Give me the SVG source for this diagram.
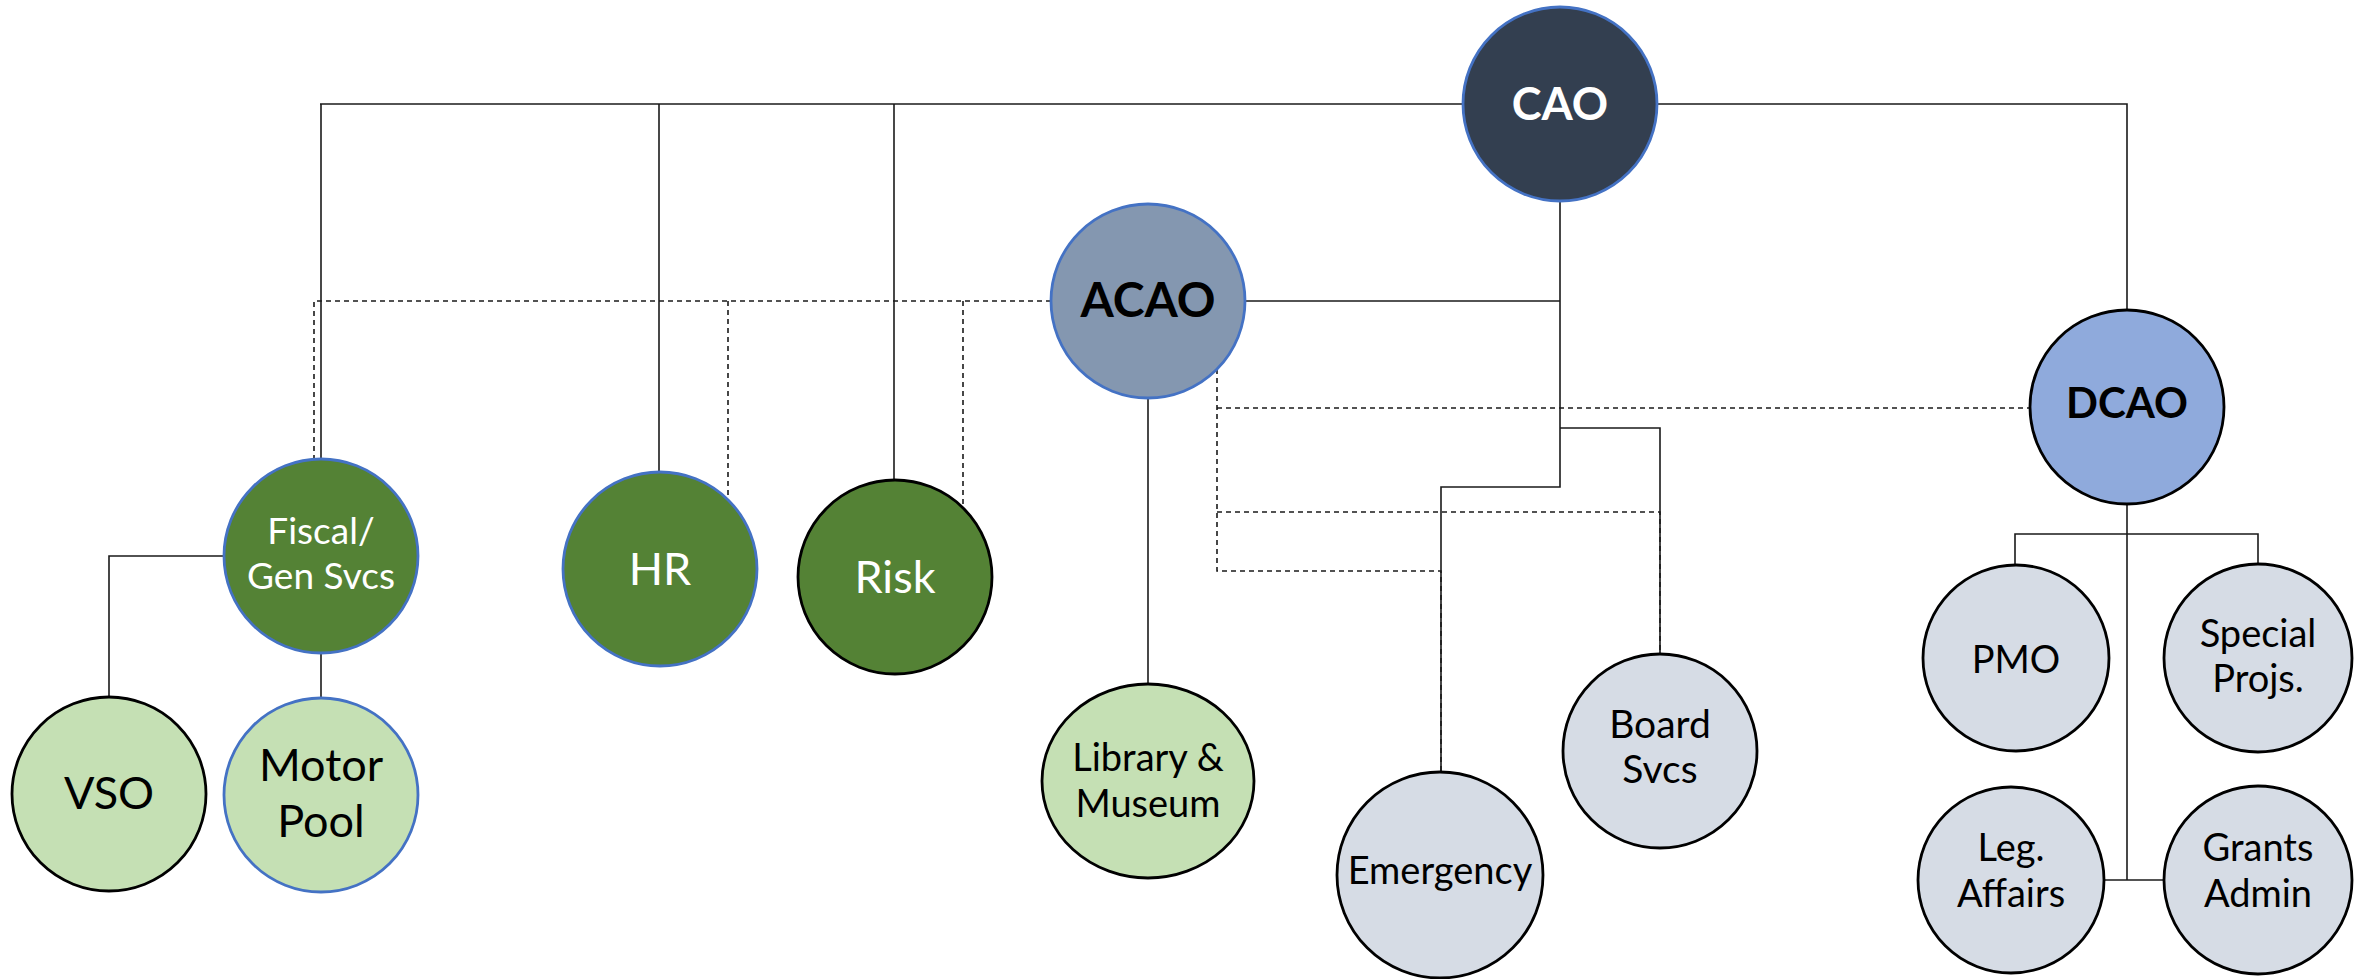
<svg xmlns="http://www.w3.org/2000/svg" width="2357" height="979" viewBox="0 0 2357 979">
  <style>
    .bg { fill: #ffffff; }
    .line { fill: none; stroke: #1a1a1a; stroke-width: 1.6; }
    .dash { fill: none; stroke: #1a1a1a; stroke-width: 1.6; stroke-dasharray: 5 4; }
    .node { stroke-width: 2.8; }
    .blue-edge { stroke: #4472C4; }
    .black-edge { stroke: #000000; }
    .exec { fill: #333F50; }
    .asst { fill: #8497B0; }
    .dep { fill: #8FAADC; }
    .dept { fill: #548235; }
    .unit { fill: #C5E0B4; }
    .office { fill: #D6DCE5; }
    text { font-family: Lato, "Open Sans", "Noto Sans", sans-serif; text-anchor: middle; }
    .lbl-w { fill: #ffffff; }
    .lbl-k { fill: #000000; }
    .bold { font-weight: bold; }
  </style>

  <rect class="bg" x="0" y="0" width="2357" height="979"/>

  <!-- reporting lines -->
  <g id="connectors">
    <!-- solid: CAO direct reports -->
    <path class="line" d="M320 104 H1463"/>
    <path class="line" d="M321 104 V459"/>
    <path class="line" d="M659 104 V472"/>
    <path class="line" d="M894 104 V480"/>
    <path class="line" d="M1657 104 H2127 V310"/>
    <path class="line" d="M1560 201 V487 H1441 V772"/>
    <path class="line" d="M1560 428 H1660 V654"/>
    <path class="line" d="M1245 301 H1560"/>
    <!-- ACAO to Library -->
    <path class="line" d="M1148 398 V684"/>
    <!-- Fiscal sub-units -->
    <path class="line" d="M224 556 H109 V697"/>
    <path class="line" d="M321 653 V698"/>
    <!-- DCAO sub-units -->
    <path class="line" d="M2127 504 V880"/>
    <path class="line" d="M2015 565 V534 H2258 V565"/>
    <path class="line" d="M2104 880 H2164"/>
    <!-- dotted-line relationships from ACAO -->
    <path class="dash" d="M1051 301 H314 V459"/>
    <path class="dash" d="M728 301 V502"/>
    <path class="dash" d="M963 301 V507"/>
    <path class="dash" d="M1217 369 V571 H1441 V772"/>
    <path class="dash" d="M1217 408 H2031"/>
    <path class="dash" d="M1217 512 H1660 V654"/>
  </g>

  <g id="cao">
    <circle class="node exec blue-edge" cx="1560" cy="104" r="97"/>
    <text class="lbl-w bold" x="1560" y="120" font-size="45">CAO</text>
  </g>

  <g id="acao">
    <circle class="node asst blue-edge" cx="1148" cy="301" r="97"/>
    <text class="lbl-k bold" x="1148" y="317" font-size="48">ACAO</text>
  </g>

  <g id="dcao">
    <circle class="node dep black-edge" cx="2127" cy="407" r="97"/>
    <text class="lbl-k bold" x="2127" y="418" font-size="42">DCAO</text>
  </g>

  <g id="fiscal">
    <circle class="node dept blue-edge" cx="321" cy="556" r="97"/>
    <text class="lbl-w" x="321" y="544" font-size="37">Fiscal/</text>
    <text class="lbl-w" x="321" y="589" font-size="37">Gen Svcs</text>
  </g>

  <g id="hr">
    <circle class="node dept blue-edge" cx="660" cy="569" r="97"/>
    <text class="lbl-w" x="660" y="585" font-size="45">HR</text>
  </g>

  <g id="risk">
    <circle class="node dept black-edge" cx="895" cy="577" r="97"/>
    <text class="lbl-w" x="895" y="593" font-size="45">Risk</text>
  </g>

  <g id="vso">
    <circle class="node unit black-edge" cx="109" cy="794" r="97"/>
    <text class="lbl-k" x="109" y="809" font-size="45">VSO</text>
  </g>

  <g id="motor-pool">
    <circle class="node unit blue-edge" cx="321" cy="795" r="97"/>
    <text class="lbl-k" x="321" y="781" font-size="45">Motor</text>
    <text class="lbl-k" x="321" y="837" font-size="45">Pool</text>
  </g>

  <g id="library">
    <ellipse class="node unit black-edge" cx="1148" cy="781" rx="106" ry="97"/>
    <text class="lbl-k" x="1148" y="771" font-size="38">Library &amp;</text>
    <text class="lbl-k" x="1148" y="817" font-size="38">Museum</text>
  </g>

  <g id="emergency">
    <circle class="node office black-edge" cx="1440" cy="875" r="103"/>
    <text class="lbl-k" x="1440" y="884" font-size="38">Emergency</text>
  </g>

  <g id="board-svcs">
    <circle class="node office black-edge" cx="1660" cy="751" r="97"/>
    <text class="lbl-k" x="1660" y="738" font-size="39">Board</text>
    <text class="lbl-k" x="1660" y="783" font-size="39">Svcs</text>
  </g>

  <g id="pmo">
    <circle class="node office black-edge" cx="2016" cy="658" r="93"/>
    <text class="lbl-k" x="2016" y="673" font-size="38">PMO</text>
  </g>

  <g id="special-projs">
    <circle class="node office black-edge" cx="2258" cy="658" r="94"/>
    <text class="lbl-k" x="2258" y="647" font-size="38">Special</text>
    <text class="lbl-k" x="2258" y="692" font-size="38">Projs.</text>
  </g>

  <g id="leg-affairs">
    <circle class="node office black-edge" cx="2011" cy="880" r="93"/>
    <text class="lbl-k" x="2011" y="861" font-size="38">Leg.</text>
    <text class="lbl-k" x="2011" y="907" font-size="38">Affairs</text>
  </g>

  <g id="grants-admin">
    <circle class="node office black-edge" cx="2258" cy="880" r="94"/>
    <text class="lbl-k" x="2258" y="861" font-size="38">Grants</text>
    <text class="lbl-k" x="2258" y="907" font-size="38">Admin</text>
  </g>
</svg>
